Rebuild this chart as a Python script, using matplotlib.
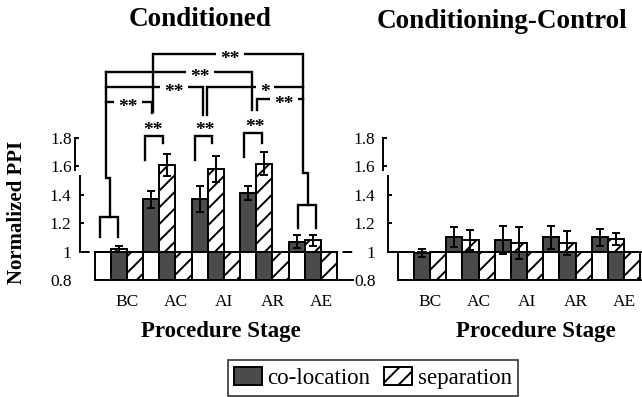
import numpy as np
import matplotlib
matplotlib.use('Agg')
import matplotlib.pyplot as plt
from matplotlib.patches import Patch, Rectangle
from matplotlib import transforms as mtrans

# ---------------- data ----------------
stages = ['BC', 'AC', 'AI', 'AR', 'AE']
panel_titles = ['Conditioned', 'Conditioning-Control']
legend_labels = ['co-location', 'separation']

cond_coloc = [1.00, 1.37, 1.37, 1.41, 1.07]
cond_coloc_err = [0.00, 0.06, 0.09, 0.05, 0.045]
cond_sep = [1.02, 1.61, 1.58, 1.62, 1.08]
cond_sep_err = [0.02, 0.08, 0.09, 0.08, 0.04]

ctrl_coloc = [0.99, 1.10, 1.08, 1.10, 1.10]
ctrl_coloc_err = [0.03, 0.07, 0.10, 0.08, 0.06]
ctrl_sep = [1.00, 1.08, 1.06, 1.06, 1.09]
ctrl_sep_err = [0.00, 0.07, 0.11, 0.085, 0.04]

yticks = [0.8, 1.0, 1.2, 1.4, 1.6, 1.8]
ytick_labels = ['0.8', '1', '1.2', '1.4', '1.6', '1.8']

# significance brackets of the Conditioned panel (data units)
# (text, x, y, sits on a line)
sig_texts = [('**', 2.124, 2.392, True), ('**', 1.505, 2.265, True), ('**', 0.969, 2.159, True),
             ('*', 2.845, 2.159, True), ('**', 0.02, 2.054, True), ('**', 3.237, 2.075, True),
             ('**', 0.536, 1.892, False), ('**', 1.608, 1.892, False), ('**', 2.639, 1.913, False)]
sig_lines = [
    ([0.536, 0.536, 3.629, 3.629, 3.732, 3.732], [1.983, 2.392, 2.392, 1.553, 1.553, 1.328]),
    ([3.526, 3.526, 3.897, 3.897], [1.166, 1.328, 1.328, 1.166]),
    ([-0.433, -0.433, -0.35, -0.35], [2.265, 1.518, 1.518, 1.244]),
    ([-0.557, -0.557, -0.186, -0.186], [1.103, 1.244, 1.244, 1.103]),
    ([-0.433, 2.577, 2.577], [2.265, 2.265, 1.997]),
    ([-0.433, 1.567, 1.567], [2.159, 2.159, 1.962]),
    ([1.649, 1.649, 3.629], [1.962, 2.159, 2.159]),
    ([-0.433, 0.515, 0.515], [2.054, 2.054, 1.976]),
    ([2.680, 2.680, 3.629], [1.997, 2.075, 2.075]),
    ([0.371, 0.371, 0.742, 0.742], [1.645, 1.814, 1.814, 1.765]),
    ([1.402, 1.402, 1.753, 1.753], [1.645, 1.814, 1.814, 1.765]),
    ([2.412, 2.412, 2.784, 2.784], [1.665, 1.835, 1.835, 1.765]),
]

# ---------------- style ----------------
SERIF = 'Liberation Serif'
DARK = '#4b4b4b'
LW = 1.4
plt.rcParams['hatch.linewidth'] = 1.4
plt.rcParams['font.family'] = SERIF

W, H = 642, 397
fig = plt.figure(figsize=(W / 100, H / 100), dpi=100)


def px_axes(l, r, bottom, top):
    return fig.add_axes([l / W, 1 - bottom / H, (r - l) / W, (bottom - top) / H])


def draw_panel(ax, coloc, coloc_err, sep, sep_err, xlim, label_pad):
    g = np.arange(len(stages))
    bw = 1 / 3
    coloc = np.asarray(coloc)
    sep = np.asarray(sep)
    y0 = yticks[0]
    ax.set_xlim(*xlim)
    ax.set_ylim(y0, yticks[-1])
    kw = dict(width=bw, edgecolor='black', linewidth=LW, zorder=2)
    # part below the 1.0 reference
    ax.bar(g - 0.5, np.full(len(g), 1.0 - y0), bottom=y0, color='white', **kw)
    ax.bar(g - 1 / 6, np.minimum(coloc, 1.0) - y0, bottom=y0, color=DARK, **kw)
    ax.bar(g + 1 / 6, np.minimum(sep, 1.0) - y0, bottom=y0, color='white', hatch='//', **kw)
    # part above the 1.0 reference
    up_c = coloc > 1.0
    up_s = sep > 1.0
    ax.bar((g - 0.5)[up_c], (coloc - 1.0)[up_c], bottom=1.0, color=DARK, **kw)
    ax.bar((g - 1 / 6)[up_s], (sep - 1.0)[up_s], bottom=1.0, color='white', hatch='//', **kw)
    xc = np.where(up_c, g - 0.5, g - 1 / 6)
    xs = np.where(up_s, g - 1 / 6, g + 1 / 6)
    ekw = dict(fmt='none', ecolor='black', elinewidth=LW, capsize=3, capthick=LW, zorder=3)
    ax.errorbar(xc, coloc, yerr=coloc_err, **ekw)
    ax.errorbar(xs, sep, yerr=sep_err, **ekw)
    ax.axhline(1.0, color='black', lw=LW, ls=(0, (5, 2.5)), zorder=4)

    for s in ['top', 'right']:
        ax.spines[s].set_visible(False)
    ax.spines['left'].set_bounds(1.0, 1.53)
    ax.spines['bottom'].set_bounds(-2 / 3, xlim[1])
    for s in ['left', 'bottom']:
        ax.spines[s].set_linewidth(LW)
    ax.set_yticks(yticks)
    ax.set_yticklabels(ytick_labels)
    ax.set_xticks(g)
    ax.set_xticklabels(stages)
    ax.tick_params(axis='y', length=0, pad=label_pad, labelsize=12.5)
    ax.tick_params(axis='x', length=0, pad=10, labelsize=12.5)
    # broken upper part of the y axis and small inward ticks
    tr_up = mtrans.offset_copy(ax.get_yaxis_transform(), fig=fig, x=-5, y=0, units='dots')
    ax.plot([0, 0], [1.575, 1.786], transform=tr_up, color='black', lw=LW, clip_on=False)
    axw = ax.get_position().width * W
    for yv in yticks[4:]:
        ax.plot([0, 3 / axw], [yv, yv], transform=tr_up, color='black', lw=LW, clip_on=False)
    for yv in yticks[2:4]:
        ax.plot([0, 3 / axw], [yv, yv], transform=ax.get_yaxis_transform(),
                color='black', lw=LW, clip_on=False)


ax1 = px_axes(80, 353, 280, 138)
draw_panel(ax1, cond_coloc, cond_coloc_err, cond_sep, cond_sep_err, (-0.969, 4.66), 6)
ax2 = px_axes(388, 642, 280, 138)
draw_panel(ax2, ctrl_coloc, ctrl_coloc_err, ctrl_sep, ctrl_sep_err, (-0.866, 4.371), 9)

# significance brackets
for xs_, ys_ in sig_lines:
    ax1.plot(xs_, ys_, color='black', lw=1.7, clip_on=False, zorder=5,
             solid_joinstyle='miter')
px_x = ax1.get_position().width * W / np.diff(ax1.get_xlim())[0]   # px per x unit
px_y = ax1.get_position().height * H / np.diff(ax1.get_ylim())[0]  # px per y unit
SIG_FS = 14
tr_txt = mtrans.offset_copy(ax1.transData, fig=fig, x=0, y=-0.51 * SIG_FS, units='points')
for t, x, y, on_line in sig_texts:
    if on_line:
        gw = (len(t) * 0.5 * SIG_FS * 100 / 72 + 8) / px_x
        gh = 8 / px_y
        ax1.add_patch(Rectangle((x - gw / 2, y - gh / 2), gw, gh, facecolor='white',
                                edgecolor='none', zorder=5.5, clip_on=False))
    ax1.text(x, y, t, transform=tr_txt, ha='center', va='baseline', fontsize=SIG_FS,
             fontweight='bold', zorder=6, clip_on=False)

# titles, axis labels
fig.text(200 / W, 1 - 20 / H, panel_titles[0], ha='center', va='center',
         fontsize=19.5, fontweight='bold')
fig.text(502 / W, 1 - 21 / H, panel_titles[1], ha='center', va='center',
         fontsize=19.5, fontweight='bold')
fig.text(221 / W, 1 - 331 / H, 'Procedure Stage', ha='center', va='center',
         fontsize=16.5, fontweight='bold')
fig.text(536 / W, 1 - 331 / H, 'Procedure Stage', ha='center', va='center',
         fontsize=16.5, fontweight='bold')
fig.text(17 / W, 1 - 212 / H, 'Normalized PPI', rotation=90, ha='center', va='center',
         fontsize=15, fontweight='bold')

handles = [Patch(facecolor=DARK, edgecolor='black', linewidth=LW),
           Patch(facecolor='white', edgecolor='black', hatch='//', linewidth=LW)]
leg = fig.legend(handles, legend_labels, loc='lower center', ncol=2,
                 bbox_to_anchor=(373 / W, 1 / H), fontsize=16.5, frameon=True,
                 fancybox=False, borderpad=0.3, handlelength=1.2, handleheight=0.85,
                 handletextpad=0.25, columnspacing=0.6, borderaxespad=0)
leg.get_frame().set_edgecolor('black')
leg.get_frame().set_linewidth(1.2)

fig.savefig('out.png', dpi=100)
